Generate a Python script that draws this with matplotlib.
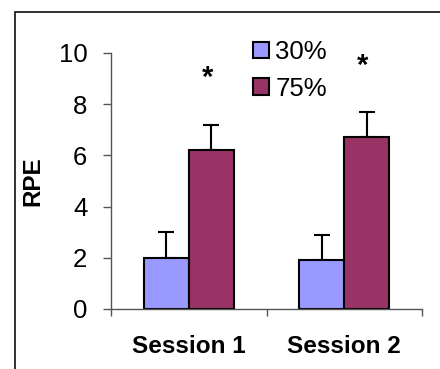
import numpy as np
import matplotlib.pyplot as plt
from matplotlib.patches import Rectangle

plt.rcParams['font.family'] = ['Liberation Sans', 'DejaVu Sans']

# data
sessions = ['Session 1', 'Session 2']
series = ['30%', '75%']
rpe_30 = [2.0, 1.9]
rpe_75 = [6.2, 6.7]
err_30 = [1.0, 1.0]
err_75 = [1.0, 1.0]
colors = ['#9999FF', '#993366']

fs = 18
fig = plt.figure(figsize=(4.4, 3.69), dpi=100)
ax = fig.add_axes([111/440, 1 - 309/369, (422 - 111)/440, (309 - 53)/369])

# outer frame
fig.patches.append(Rectangle((15/440, -0.2), 1.0, 1.2 - 12/369, transform=fig.transFigure,
                             fill=False, edgecolor='#222222', linewidth=1.3))

x = np.arange(len(sessions)) + 0.5
w = 0.29
b1 = ax.bar(x - w/2, rpe_30, w, color=colors[0], edgecolor='black', linewidth=1.5,
            label=series[0], zorder=2)
b2 = ax.bar(x + w/2, rpe_75, w, color=colors[1], edgecolor='black', linewidth=1.5,
            label=series[1], zorder=2)
ax.errorbar(x - w/2, rpe_30, yerr=[np.zeros(2), err_30], fmt='none', ecolor='black',
            elinewidth=1.5, capsize=6, capthick=1.5, zorder=1)
ax.errorbar(x + w/2, rpe_75, yerr=[np.zeros(2), err_75], fmt='none', ecolor='black',
            elinewidth=1.5, capsize=6, capthick=1.5, zorder=1)

# significance marks
for xi, m, e in zip(x + w/2, rpe_75, err_75):
    ax.text(xi - 0.025, m + e + 1.5, '*', ha='center', va='baseline',
            fontsize=21, fontweight='bold')

ax.set_xlim(0, 2)
ax.set_ylim(0, 10)
ax.set_yticks([0, 2, 4, 6, 8, 10])
ax.set_xticks([0, 1, 2])
ax.set_xticklabels([])
ax.set_xticks(x, minor=True)
ax.set_xticklabels(sessions, minor=True, fontsize=fs - 0.5, fontweight='bold')
ax.tick_params(axis='x', which='minor', length=0, pad=18.5)
ax.tick_params(axis='x', which='major', length=5, width=1, color='#555555')
ax.tick_params(axis='y', length=6, width=1, color='#555555', labelsize=fs + 0.5, pad=11)

for s in ['top', 'right']:
    ax.spines[s].set_visible(False)
for s in ['left', 'bottom']:
    ax.spines[s].set_color('#555555')
    ax.spines[s].set_linewidth(1)

ax.set_ylabel('RPE', fontsize=fs - 0.5, fontweight='bold')
ax.yaxis.set_label_coords(-0.215, 0.5)

ax.legend(handles=[b1, b2], loc='upper left', bbox_to_anchor=(253/440, 1 - 40/369),
          bbox_transform=fig.transFigure, frameon=False, fontsize=fs + 0.5,
          handlelength=0.62, handleheight=0.62, handletextpad=0.25,
          labelspacing=0.5, borderpad=0, borderaxespad=0)

fig.savefig('out.png', dpi=100)
